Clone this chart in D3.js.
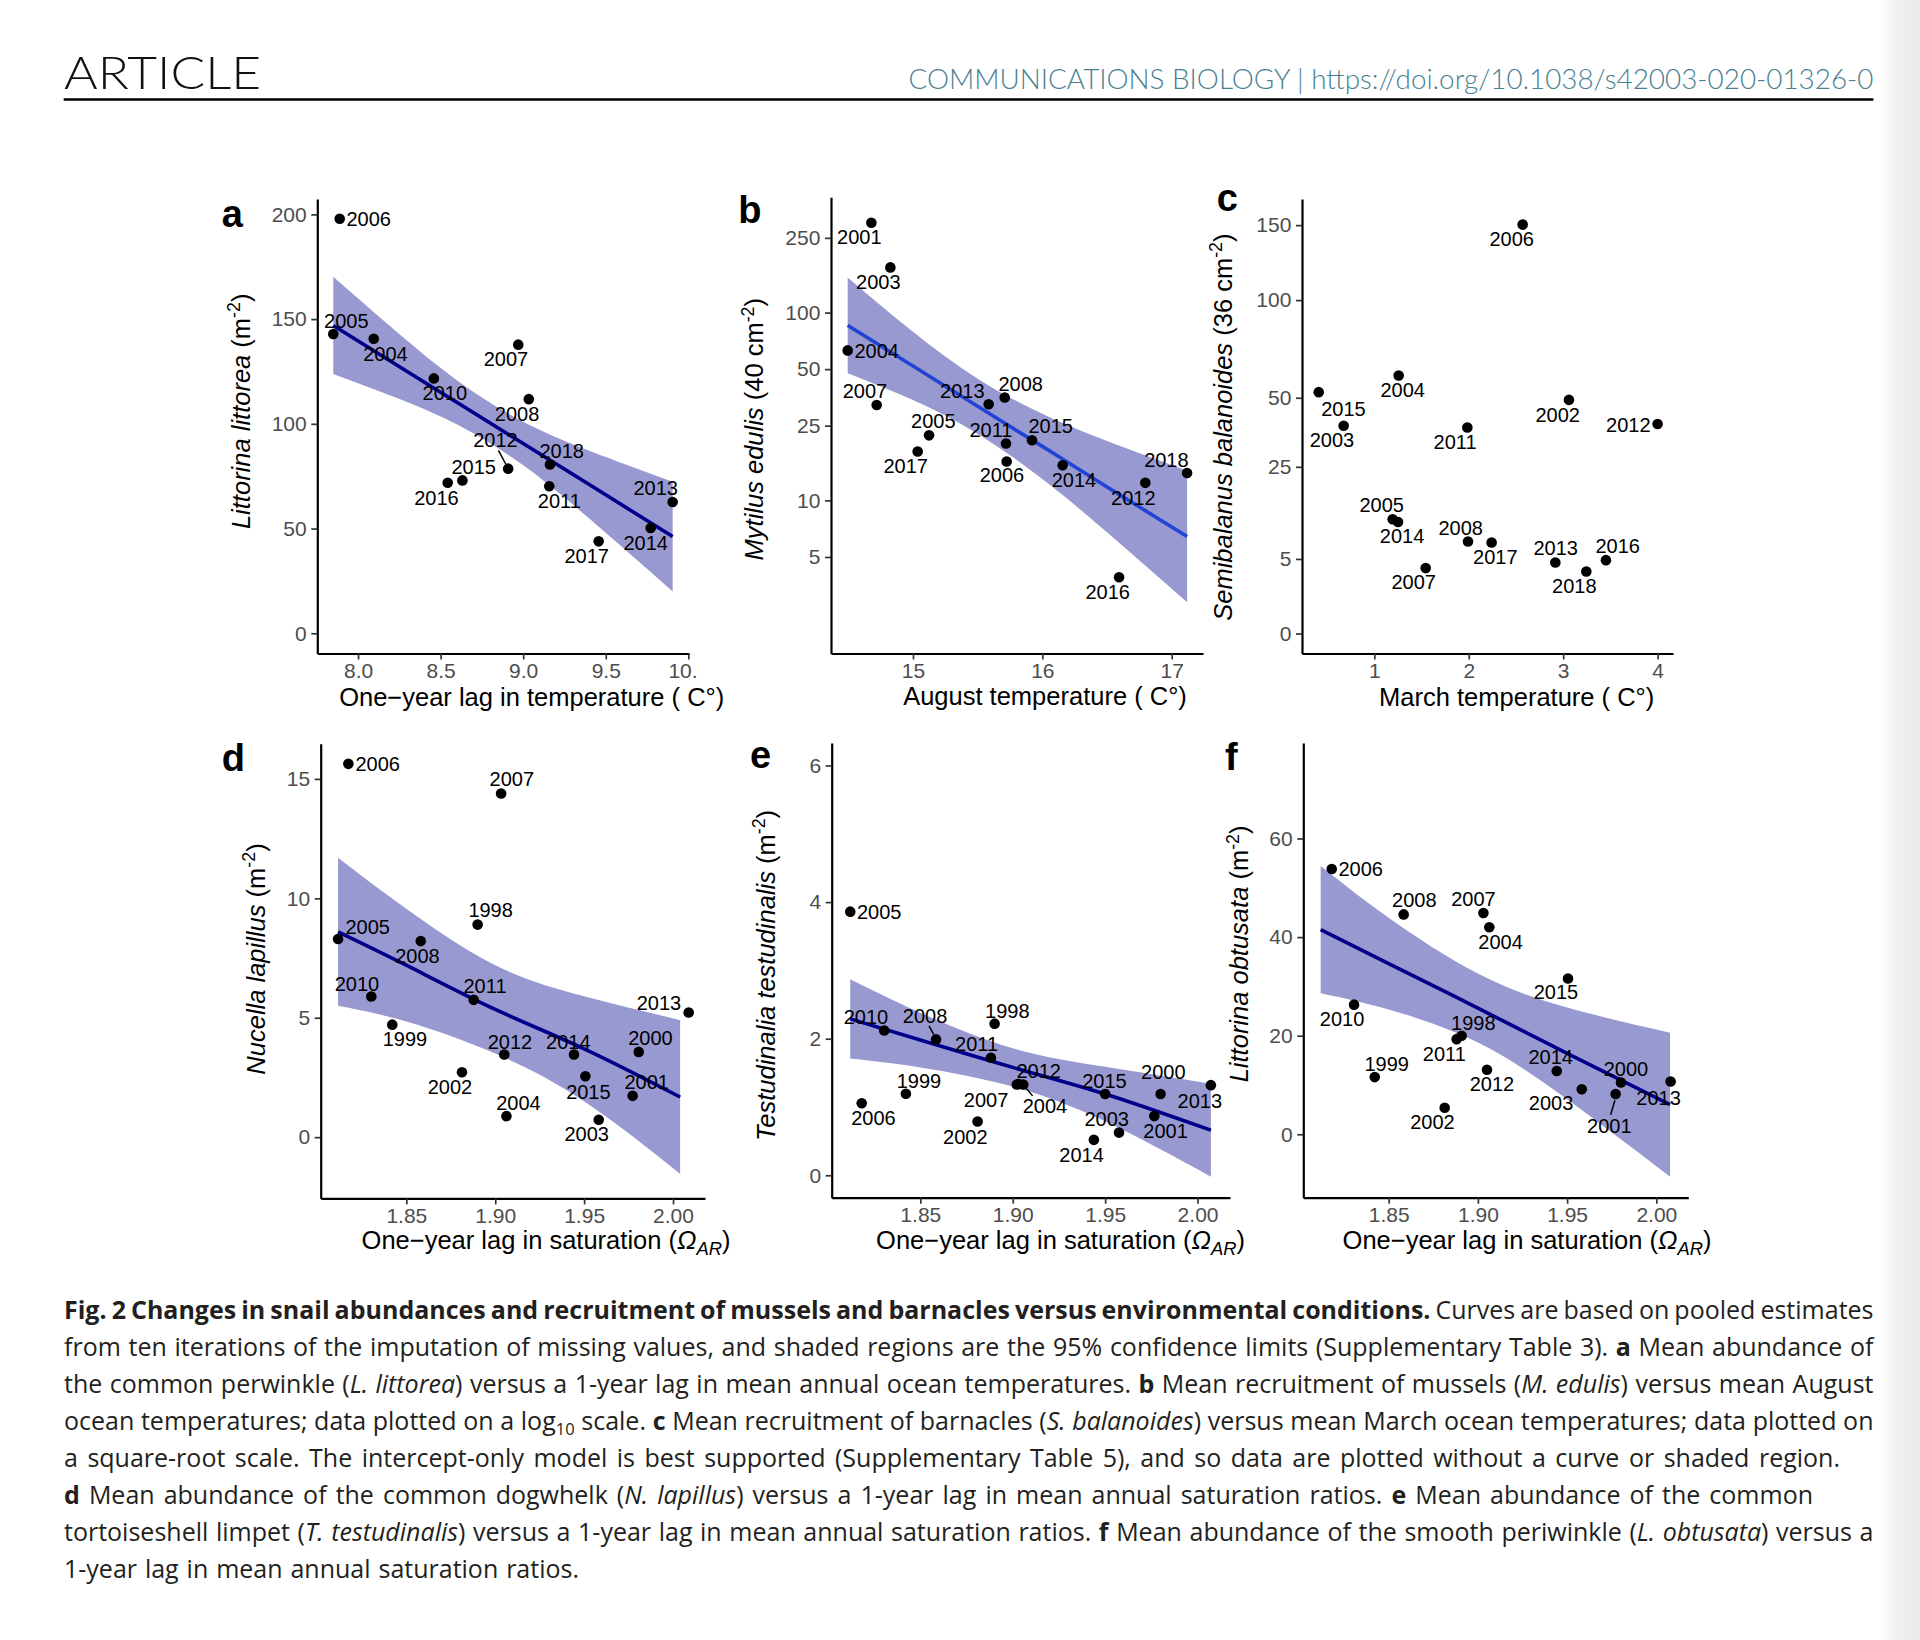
<!DOCTYPE html>
<html>
<head>
<meta charset="utf-8">
<script src="https://cdn.jsdelivr.net/npm/d3@7"></script>
<style>
  body { margin: 0; background: #fff; }
  text { font-family: "Liberation Sans", Arial, Helvetica, sans-serif; }
</style>
</head>
<body>
<script>
// ---- data ----
// a  Littorina littorea vs one-year lag in temperature
var aYears = [2006, 2005, 2004, 2010, 2007, 2008, 2012, 2018, 2015, 2016, 2011, 2013, 2014, 2017];
var aTemp  = [7.889, 7.850, 8.095, 8.459, 8.970, 9.034, 8.909, 9.162, 8.632, 8.543, 9.158, 9.905, 9.772, 9.457];
var aAbund = [197.9, 142.9, 140.6, 121.7, 137.8, 111.8, 78.6, 80.6, 73.0, 71.9, 70.2, 62.7, 50.3, 43.9];
var aFitX  = [7.85, 8.2, 8.6, 9.0, 9.4, 9.905];
var aFit   = [147.0, 129.8, 110.2, 90.6, 71.0, 46.2];
var aUpper = [170.2, 146.2, 120.7, 101.0, 87.2, 72.4];
var aLower = [123.8, 113.4, 99.7, 80.2, 54.8, 20.0];
var aTicksX = [8.0, 8.5, 9.0, 9.5, 10.0];
var aTicksY = [0, 50, 100, 150, 200];

// b  Mytilus edulis vs August temperature (log10 axis)
var bYears = [2001, 2003, 2004, 2007, 2005, 2017, 2013, 2008, 2011, 2006, 2015, 2014, 2012, 2018, 2016];
var bTemp  = [14.678, 14.825, 14.495, 14.719, 15.124, 15.036, 15.585, 15.709, 15.719, 15.724, 15.920, 16.157, 16.796, 17.119, 16.593];
var bRecr  = [301, 174, 62.9, 32.2, 22.2, 18.2, 32.5, 35.3, 20.1, 16.1, 20.9, 15.4, 12.4, 14.0, 3.9];
var bFitX  = [14.495, 15.0, 15.5, 16.0, 16.5, 17.119];
var bFit   = [85.5, 51.9, 31.7, 19.4, 11.8, 6.42];
var bUpper = [153.8, 79.0, 44.5, 28.9, 20.7, 14.4];
var bLower = [47.5, 34.2, 22.6, 13.0, 6.76, 2.87];
var bTicksX = [15, 16, 17];
var bTicksY = [5, 10, 25, 50, 100, 250];

// c  Semibalanus balanoides vs March temperature (square-root axis), no curve
var cYears = [2006, 2015, 2003, 2004, 2011, 2002, 2012, 2005, 2014, 2008, 2017, 2007, 2013, 2018, 2016];
var cTemp  = [2.571, 0.411, 0.675, 1.258, 1.985, 3.061, 4.0, 1.194, 1.251, 1.992, 2.242, 1.544, 2.917, 3.245, 3.453];
var cRecr  = [150.4, 52.4, 38.8, 59.9, 38.2, 49.1, 39.5, 11.76, 11.2, 7.61, 7.44, 3.85, 4.53, 3.46, 4.84];
var cTicksX = [1, 2, 3, 4];
var cTicksY = [0, 5, 25, 50, 100, 150];

// d  Nucella lapillus vs one-year lag in saturation
var dYears = [2006, 2007, 1998, 2005, 2008, 2010, 2011, 1999, 2013, 2000, 2012, 2014, 2002, 2015, 2001, 2004, 2003];
var dSat   = [1.8174, 1.9033, 1.8901, 1.8116, 1.8581, 1.8303, 1.8879, 1.8421, 2.0088, 1.9807, 1.9051, 1.9443, 1.8813, 1.9507, 1.9773, 1.9063, 1.9582];
var dAbund = [15.63, 14.39, 8.90, 8.30, 8.21, 5.89, 5.75, 4.71, 5.22, 3.57, 3.46, 3.46, 2.72, 2.55, 1.73, 0.88, 0.73];
var dFitX  = [1.8116, 1.85, 1.90, 1.95, 2.004];
var dFit   = [8.60, 7.20, 5.35, 3.70, 1.68];
var dUpper = [11.70, 9.56, 7.20, 5.90, 4.90];
var dLower = [5.50, 4.84, 3.50, 1.50, -1.54];
var satTicksX = [1.85, 1.90, 1.95, 2.00];
var dTicksY = [0, 5, 10, 15];

// e  Testudinalia testudinalis vs one-year lag in saturation
var eYears = [2005, 2010, 2008, 1998, 2011, 2012, 2004, 2007, 1999, 2006, 2002, 2015, 2000, 2013, 2001, 2003, 2014];
var eSat   = [1.8121, 1.8305, 1.8585, 1.8902, 1.8882, 1.9032, 1.9057, 1.9022, 1.8422, 1.8183, 1.8810, 1.9500, 1.9800, 2.0072, 1.9766, 1.9575, 1.9439];
var eAbund = [3.86, 2.12, 1.99, 2.22, 1.72, 1.335, 1.33, 1.33, 1.195, 1.054, 0.787, 1.19, 1.19, 1.32, 0.867, 0.625, 0.519];
var eFitX  = [1.8121, 1.85, 1.90, 1.95, 2.0072];
var eFit   = [2.29, 1.98, 1.58, 1.19, 0.66];
var eUpper = [2.87, 2.38, 1.86, 1.59, 1.34];
var eLower = [1.71, 1.58, 1.30, 0.79, -0.02];
var eTicksY = [0, 2, 4, 6];

// f  Littorina obtusata vs one-year lag in saturation
var fYears = [2006, 2008, 2007, 2004, 2015, 2010, 1998, 2011, 1999, 2012, 2014, 2003, 2000, 2001, 2013, 2002];
var fSat   = [1.8181, 1.8584, 1.9031, 1.9064, 1.9505, 1.8306, 1.8909, 1.8881, 1.8422, 1.9051, 1.9442, 1.9582, 1.9802, 1.9772, 2.008, 1.8814];
var fAbund = [53.8, 44.6, 44.9, 42.0, 31.6, 26.3, 20.0, 19.3, 11.6, 13.1, 12.85, 9.15, 10.5, 8.17, 10.7, 5.38];
var fFitX  = [1.8119, 1.85, 1.90, 1.95, 2.0077];
var fFit   = [41.5, 34.6, 25.6, 16.4, 6.0];
var fUpper = [54.4, 43.9, 32.6, 25.7, 20.6];
var fLower = [28.6, 25.3, 18.6, 7.1, -8.6];
var fTicksY = [0, 20, 40, 60];

// ---- layout (pixels) ----
var W = 1920, H = 1640;
var BAND = "#9999d1", DARK = "#00008b";

var panels = [
  {id: "a", years: aYears, xs: aTemp, ys: aAbund, fitX: aFitX, fit: aFit, lo: aLower, hi: aUpper,
   xTicks: aTicksX, yTicks: aTicksY, xFmt: ".1f", yFmt: "d", yType: "linear", line: DARK,
   box: [317.3, 689, 198.9, 653.5], xDom: [7.7533, 10.004], yDom: [-9.65, 207.4], clipX: 697,
   letter: [221.7, 226.5], yT: [250, 411.3], xT: [531.7, 705.5],
   yTitle: [["i", "Littorina littorea"], ["n", " (m"], ["sup", "-2"], ["n", ")"]],
   xTitle: [["n", "One\u2212year lag in temperature ( C\u00b0)"]]},
  {id: "b", years: bYears, xs: bTemp, ys: bRecr, fitX: bFitX, fit: bFit, lo: bLower, hi: bUpper,
   xTicks: bTicksX, yTicks: bTicksY, xFmt: "d", yFmt: "d", yType: "log", line: "#2244d4",
   box: [831, 1203, 197.2, 653.5], xDom: [14.366, 17.242], yDom: [1.531, 411.5],
   letter: [738.3, 223], yT: [763.3, 429.2], xT: [1045, 705.2],
   yTitle: [["i", "Mytilus edulis"], ["n", " (40 cm"], ["sup", "-2"], ["n", ")"]],
   xTitle: [["n", "August temperature ( C\u00b0)"]]},
  {id: "c", years: cYears, xs: cTemp, ys: cRecr,
   xTicks: cTicksX, yTicks: cTicksY, xFmt: "d", yFmt: "d", yType: "sqrt",
   box: [1302, 1673, 198.9, 653.5], xDom: [0.234, 4.163], yDom: [-0.359, 169.9],
   letter: [1216.7, 211], yT: [1231.7, 427.1], xT: [1516.7, 705.5],
   yTitle: [["i", "Semibalanus balanoides"], ["n", " (36 cm"], ["sup", "-2"], ["n", ")"]],
   xTitle: [["n", "March temperature ( C\u00b0)"]]},
  {id: "d", years: dYears, xs: dSat, ys: dAbund, fitX: dFitX, fit: dFit, lo: dLower, hi: dUpper,
   xTicks: satTicksX, yTicks: dTicksY, xFmt: ".2f", yFmt: "d", yType: "linear", line: DARK,
   box: [320.7, 705, 743.8, 1198.4], xDom: [1.80184, 2.01798], yDom: [-2.564, 16.47],
   letter: [221.7, 771.3], yT: [265, 959], xT: [546, 1249.3],
   yTitle: [["i", "Nucella lapillus"], ["n", " (m"], ["sup", "-2"], ["n", ")"]],
   xTitle: [["n", "One\u2212year lag in saturation ("], ["i", "\u03a9"], ["isub", "AR"], ["n", ")"]]},
  {id: "e", years: eYears, xs: eSat, ys: eAbund, fitX: eFitX, fit: eFit, lo: eLower, hi: eUpper,
   xTicks: satTicksX, yTicks: eTicksY, xFmt: ".2f", yFmt: "d", yType: "linear", line: DARK,
   box: [831.7, 1230, 743.1, 1197.7], xDom: [1.80206, 2.01755], yDom: [-0.328, 6.328],
   letter: [750, 767.9], yT: [775, 975.4], xT: [1060.5, 1249.3],
   yTitle: [["i", "Testudinalia testudinalis"], ["n", " (m"], ["sup", "-2"], ["n", ")"]],
   xTitle: [["n", "One\u2212year lag in saturation ("], ["i", "\u03a9"], ["isub", "AR"], ["n", ")"]]},
  {id: "f", years: fYears, xs: fSat, ys: fAbund, fitX: fFitX, fit: fFit, lo: fLower, hi: fUpper,
   xTicks: satTicksX, yTicks: fTicksY, xFmt: ".2f", yFmt: "d", yType: "linear", line: DARK,
   box: [1303.3, 1688.3, 743.1, 1197.7], xDom: [1.80216, 2.01792], yDom: [-12.86, 79.35],
   letter: [1225, 769.6], yT: [1248.3, 953.9], xT: [1527, 1249.3],
   yTitle: [["i", "Littorina obtusata"], ["n", " (m"], ["sup", "-2"], ["n", ")"]],
   xTitle: [["n", "One\u2212year lag in saturation ("], ["i", "\u03a9"], ["isub", "AR"], ["n", ")"]]}
];

// year label offsets from the point, in px (repelled labels)
var labelOffsets = {
  a: {2006:[29,0],2005:[13,-13.4],2004:[11.7,14.5],2010:[11,14.5],2007:[-12.3,13.7],2008:[-11.7,14.2],2012:[-12.7,-28.6],
      2018:[11.7,-13.4],2015:[11.3,-13.7],2016:[-11.3,14.8],2011:[10,14.8],2013:[-17,-13.7],2014:[-5,14.5],2017:[-12,14.2]},
  b: {2001:[-12,14.5],2003:[-12,14.5],2004:[29,0],2007:[-11.7,-14.2],2005:[4.3,-14.2],2017:[-12,14.2],2013:[-26.3,-13.4],
      2008:[16,-13.4],2011:[-15,-13.7],2015:[18.7,-14.2],2006:[-4.7,13.7],2014:[11.3,14.5],2012:[-12,14.5],2018:[-20.7,-13.4],2016:[-11.3,14.5]},
  c: {2006:[-11,14.5],2015:[24.7,16.2],2003:[-11.7,14.2],2004:[4,14.2],2011:[-12.3,14.5],2002:[-11.3,14.8],2012:[-29.3,1],
      2005:[-11,-14.2],2014:[4,13.7],2008:[-7.3,-13.4],2017:[3.7,14.2],2007:[-12,14.2],2013:[0.3,-14.5],2018:[-12,14.5],2016:[11.7,-14.2]},
  d: {2006:[29.3,0],2007:[10.7,-14.2],1998:[13,-14.8],2005:[29.7,-11.7],2008:[-3.3,14.8],2010:[-14.3,-13.1],2011:[11.3,-13.7],
      1999:[12.7,14.2],2013:[-29.7,-9.6],2000:[11.7,-14.2],2012:[5.7,-12.7],2014:[-5.7,-12.7],2002:[-12,14.8],2015:[3,15.5],
      2001:[14,-14.5],2004:[12,-13.4],2003:[-12,14.5]},
  e: {2005:[29,0],2010:[-18.3,-13.7],2008:[-11,-23.8],1998:[12.7,-13.1],2011:[-14.3,-13.7],2012:[20,-13.1],2004:[21.7,21.7],
      2007:[-30.7,15.5],1999:[13,-13.1],2006:[11.7,14.5],2002:[-12.3,14.8],2015:[-0.7,-13.4],2000:[2.7,-22.4],2013:[-11,15.5],
      2001:[11.3,14.5],2003:[-12.3,-14.2],2014:[-12.3,15.2]},
  f: {2006:[29,0],2008:[10.7,-14.5],2007:[-10,-14.2],2004:[11.3,14.5],2015:[-12,13.7],2010:[-12,13.7],1998:[11.7,-13.1],
      2011:[-12.3,14.8],1999:[12,-13.1],2012:[5,14.2],2014:[-6,-13.7],2003:[-30.7,13.4],2000:[5,-13.4],2001:[-6.3,32],
      2013:[-12,16.2],2002:[-12.3,13.7]}
};
// leader segments (x1,y1,x2,y2 relative to the point)
var leaders = {
  a: {2012: [-2.3, -4.4, -9.7, -18.3]},
  e: {2008: [-2.3, -4.9, -7, -13.4], 2004: [2.7, 3.4, 9.3, 11.4]},
  f: {2001: [-0.7, 6.2, -5, 20.7]}
};

var svg = d3.select("body").append("svg").attr("width", W).attr("height", H);
svg.append("rect").attr("width", W).attr("height", H).attr("fill", "#fff");

// page edge shading on the right
var grad = svg.append("defs").append("linearGradient").attr("id", "edge");
grad.append("stop").attr("offset", "0").attr("stop-color", "#fff");
grad.append("stop").attr("offset", "0.35").attr("stop-color", "#f1f1f1");
grad.append("stop").attr("offset", "1").attr("stop-color", "#e9e9e9");
svg.append("rect").attr("x", 1880).attr("y", 0).attr("width", 40).attr("height", H).attr("fill", "url(#edge)");

// header
svg.append("text").attr("x", 64).attr("y", 89.3).text("ARTICLE")
  .style("font-family", "Lato, 'Open Sans', sans-serif").style("font-weight", 300)
  .attr("font-size", 46).attr("textLength", 197).attr("lengthAdjust", "spacingAndGlyphs").attr("fill", "#111");
svg.append("text").attr("x", 908.5).attr("y", 89.3)
  .text("COMMUNICATIONS BIOLOGY | https://doi.org/10.1038/s42003-020-01326-0")
  .style("font-family", "Lato, 'Open Sans', sans-serif").style("font-weight", 300)
  .attr("font-size", 28).attr("textLength", 965).attr("lengthAdjust", "spacingAndGlyphs").attr("fill", "#4a7f92");
svg.append("line").attr("x1", 63.7).attr("x2", 1873.4).attr("y1", 99.5).attr("y2", 99.5)
  .attr("stroke", "#000").attr("stroke-width", 2.6);

function addParts(t, parts, size) {
  var shift = 0;
  parts.forEach(function(p) {
    var s = t.append("tspan").text(p[1]);
    var want = 0;
    if (p[0] === "i" || p[0] === "isub") s.style("font-style", "italic");
    if (p[0] === "sup") { want = -size * 0.38; s.attr("font-size", size * 0.7); }
    if (p[0] === "isub") { want = size * 0.22; s.attr("font-size", size * 0.72); }
    if (want - shift !== 0) s.attr("dy", want - shift);
    shift = want;
  });
}

panels.forEach(function(p) {
  var g = svg.append("g");
  var x = d3.scaleLinear().domain(p.xDom).range([p.box[0], p.box[1]]);
  var y = (p.yType === "log" ? d3.scaleLog() : p.yType === "sqrt" ? d3.scaleSqrt() : d3.scaleLinear())
    .domain(p.yDom).range([p.box[3], p.box[2]]);

  if (p.fitX) {
    var idx = d3.range(p.fitX.length);
    g.append("path").datum(idx)
      .attr("d", d3.area().curve(d3.curveNatural)
        .x(function(i) { return x(p.fitX[i]); })
        .y0(function(i) { return y(p.lo[i]); })
        .y1(function(i) { return y(p.hi[i]); }))
      .attr("fill", BAND);
    g.append("path").datum(idx)
      .attr("d", d3.line().curve(d3.curveNatural)
        .x(function(i) { return x(p.fitX[i]); })
        .y(function(i) { return y(p.fit[i]); }))
      .attr("fill", "none").attr("stroke", p.line).attr("stroke-width", 3.6);
  }

  var offs = labelOffsets[p.id], lead = leaders[p.id] || {};
  p.years.forEach(function(yr, i) {
    var cx = x(p.xs[i]), cy = y(p.ys[i]);
    if (lead[yr]) {
      var l = lead[yr];
      g.append("line").attr("x1", cx + l[0]).attr("y1", cy + l[1]).attr("x2", cx + l[2]).attr("y2", cy + l[3])
        .attr("stroke", "#000").attr("stroke-width", 1.5);
    }
    g.append("circle").attr("cx", cx).attr("cy", cy).attr("r", 5.3).attr("fill", "#000");
  });
  p.years.forEach(function(yr, i) {
    var o = offs[yr] || [0, -14];
    g.append("text").attr("x", x(p.xs[i]) + o[0]).attr("y", y(p.ys[i]) + o[1])
      .attr("dy", "0.36em").attr("text-anchor", "middle").attr("font-size", 20).attr("fill", "#000")
      .text(yr);
  });

  // axes
  var xg = g.append("g").attr("transform", "translate(0," + p.box[3] + ")")
    .call(d3.axisBottom(x).tickValues(p.xTicks).tickFormat(d3.format(p.xFmt))
      .tickSize(6).tickSizeOuter(0).tickPadding(3.5));
  var yg = g.append("g").attr("transform", "translate(" + p.box[0] + ",0)")
    .call(d3.axisLeft(y).tickValues(p.yTicks).tickFormat(d3.format(p.yFmt))
      .tickSize(6).tickSizeOuter(0).tickPadding(4.6));
  [xg, yg].forEach(function(ax) {
    ax.attr("font-family", null).attr("font-size", null);
    ax.select(".domain").attr("stroke", "#000").attr("stroke-width", 2.2);
    ax.selectAll(".tick line").attr("stroke", "#333").attr("stroke-width", 1.7);
    ax.selectAll(".tick text").attr("fill", "#4d4d4d").attr("font-size", 21);
  });
  if (p.clipX) {
    svg.select("defs").append("clipPath").attr("id", "clip" + p.id)
      .append("rect").attr("x", 0).attr("y", -20).attr("width", p.clipX).attr("height", 80);
    xg.attr("clip-path", "url(#clip" + p.id + ")");
  }

  // titles
  var xt = g.append("text").attr("x", p.xT[0]).attr("y", p.xT[1]).attr("text-anchor", "middle")
    .attr("font-size", 25.5).attr("fill", "#000");
  addParts(xt, p.xTitle, 25.5);
  var yt = g.append("text").attr("transform", "translate(" + p.yT[0] + "," + p.yT[1] + ") rotate(-90)")
    .attr("text-anchor", "middle").attr("font-size", 25.5).attr("fill", "#000");
  addParts(yt, p.yTitle, 25.5);

  g.append("text").attr("x", p.letter[0]).attr("y", p.letter[1]).attr("font-size", 38)
    .attr("font-weight", "bold").attr("fill", "#000").text(p.id);
});

// caption, one entry per printed line; last number is the right edge of the line
var captionLines = [
  [[["b", "Fig. 2 Changes in snail abundances and recruitment of mussels and barnacles versus environmental conditions."], ["n", " Curves are based on pooled estimates"]], 1873.5],
  [[["n", "from ten iterations of the imputation of missing values, and shaded regions are the 95% confidence limits (Supplementary Table 3). "], ["b", "a"], ["n", " Mean abundance of"]], 1873.5],
  [[["n", "the common perwinkle ("], ["i", "L. littorea"], ["n", ") versus a 1-year lag in mean annual ocean temperatures. "], ["b", "b"], ["n", " Mean recruitment of mussels ("], ["i", "M. edulis"], ["n", ") versus mean August"]], 1873.5],
  [[["n", "ocean temperatures; data plotted on a log"], ["sub", "10"], ["n", " scale. "], ["b", "c"], ["n", " Mean recruitment of barnacles ("], ["i", "S. balanoides"], ["n", ") versus mean March ocean temperatures; data plotted on"]], 1873.5],
  [[["n", "a square-root scale. The intercept-only model is best supported (Supplementary Table 5), and so data are plotted without a curve or shaded region."]], 1840],
  [[["b", "d"], ["n", " Mean abundance of the common dogwhelk ("], ["i", "N. lapillus"], ["n", ") versus a 1-year lag in mean annual saturation ratios. "], ["b", "e"], ["n", " Mean abundance of the common"]], 1813],
  [[["n", "tortoiseshell limpet ("], ["i", "T. testudinalis"], ["n", ") versus a 1-year lag in mean annual saturation ratios. "], ["b", "f"], ["n", " Mean abundance of the smooth periwinkle ("], ["i", "L. obtusata"], ["n", ") versus a"]], 1873.5],
  [[["n", "1-year lag in mean annual saturation ratios."]], 579]
];

captionLines.forEach(function(line, k) {
  var t = svg.append("text").attr("x", 64).attr("y", 1319 + 37 * k)
    .style("font-family", "'Open Sans', 'Noto Sans', sans-serif").attr("font-size", 25).attr("fill", "#231f20");
  var shift = 0, full = "";
  line[0].forEach(function(p) {
    var s = t.append("tspan").text(p[1]);
    full += p[1];
    if (p[0] === "b") s.attr("font-weight", "bold");
    if (p[0] === "i") s.style("font-style", "italic");
    var want = p[0] === "sub" ? 5 : 0;
    if (p[0] === "sub") s.attr("font-size", 16.5);
    if (want !== shift) s.attr("dy", want - shift);
    shift = want;
  });
  var natural = t.node().getComputedTextLength();
  var spaces = (full.match(/ /g) || []).length;
  if (spaces) t.attr("word-spacing", ((line[1] - 64) - natural) / spaces);
});
</script>
</body>
</html>
